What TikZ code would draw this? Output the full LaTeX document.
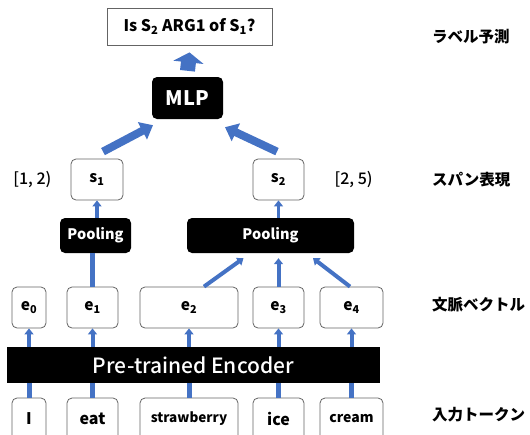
\documentclass[tikz,border=0pt]{standalone}
\usepackage{fontspec}
\setmainfont{Noto Sans CJK JP}
\newfontfamily\medfont{Noto Sans CJK JP Medium}
\usetikzlibrary{arrows.meta,positioning}
\definecolor{arrowblue}{RGB}{68,114,196}
\definecolor{boxgray}{RGB}{100,100,100}

\begin{document}
\begin{tikzpicture}[
    x=1pt, y=1pt,
    wbox/.style={draw=boxgray, line width=0.8pt, rounded corners=5pt, fill=white,
      minimum height=41pt, inner sep=0pt, font=\bfseries\fontsize{15.5}{15.5}\selectfont},
    tok/.style={wbox, minimum height=42pt, font=\bfseries\fontsize{16}{16}\selectfont},
    bbox/.style={fill=black, rounded corners=5pt, text=white, inner sep=0pt,
      font=\bfseries\fontsize{14.5}{14.5}\selectfont},
    arrow/.style={-{Triangle[width=9pt,length=6pt]}, line width=4pt, draw=arrowblue},
    bigarrow/.style={-{Triangle[width=19pt,length=12pt]}, line width=8pt, draw=arrowblue},
    blockarrow/.style={-{Triangle[width=30pt,length=10pt]}, line width=15pt, draw=arrowblue},
    feed/.style={line width=5pt, draw=arrowblue},
    span/.style={inner sep=0pt, font=\medfont\fontsize{16}{16}\selectfont},
    side/.style={anchor=west, inner sep=0pt, font=\bfseries\fontsize{15.5}{15.5}\selectfont}
  ]
    \path[use as bounding box, clip] (0,0) rectangle (530,-434);

    \node[draw=boxgray, line width=0.8pt, minimum width=165pt, minimum height=37pt,
      font=\bfseries\fontsize{16}{16}\selectfont] (q) at (189.5,-26.5)
      {Is S\textsubscript{2} ARG1 of S\textsubscript{1}?};
    \node[bbox, minimum width=71pt, minimum height=42pt,
      font=\bfseries\fontsize{20}{20}\selectfont] (mlp) at (187.5,-98) {MLP};

    \node[wbox, minimum width=52pt] (s1) at (97,-179.5) {s\textsubscript{1}};
    \node[wbox, minimum width=51pt] (s2) at (278.5,-179.5) {s\textsubscript{2}};
    \node[span, left=19pt of s1] (spanA) {[1, 2)};
    \node[span, right=30pt of s2] (spanB) {[2, 5)};

    \node[bbox, minimum width=71pt, minimum height=35pt] (poolA) at (95.5,-235.5) {Pooling};
    \node[bbox, minimum width=167pt, minimum height=35pt] (poolB) at (270.5,-235.5) {Pooling};

    \node[wbox, minimum width=34pt] (e0) at (29,-307.5) {e\textsubscript{0}};
    \node[wbox, minimum width=51pt] (e1) at (92.5,-307.5) {e\textsubscript{1}};
    \node[wbox, minimum width=98pt] (e2) at (189,-307.5) {e\textsubscript{2}};
    \node[wbox, minimum width=51pt] (e3) at (278.5,-307.5) {e\textsubscript{3}};
    \node[wbox, minimum width=63pt] (e4) at (351.5,-307.5) {e\textsubscript{4}};

    \node[fill=black, text=white, minimum width=373pt, minimum height=36pt,
      font=\medfont\fontsize{21}{21}\selectfont] (enc) at (193.5,-365) {Pre-trained Encoder};

    \node[tok, minimum width=34pt] (t0) at (29,-419) {I};
    \node[tok, minimum width=51pt] (t1) at (92.5,-419) {eat};
    \node[tok, minimum width=98pt, font=\bfseries\fontsize{13.5}{13.5}\selectfont] (t2) at (189,-419) {strawberry};
    \node[tok, minimum width=51pt] (t3) at (278.5,-419) {ice};
    \node[tok, minimum width=63pt, font=\bfseries\fontsize{14}{14}\selectfont] (t4) at (351.5,-419) {cream};

    % layer names
    \node[side] (lblPred) at (432,-37) {ラベル予測};
    \node[side] (lblSpan) at (432,-180) {スパン表現};
    \node[side] (lblVec) at (432,-305) {文脈ベクトル};
    \node[side] (lblTok) at (432,-415) {入力トークン};

    \draw[feed] (t0.north) -- (t0.north |- enc.south);
    \draw[feed] (t1.north) -- (t1.north |- enc.south);
    \draw[feed] (t2.north) -- (t2.north |- enc.south);
    \draw[feed] (t3.north) -- (t3.north |- enc.south);
    \draw[feed] (t4.north) -- (t4.north |- enc.south);

    \draw[arrow] (enc.north -| e0) -- (e0.south);
    \draw[arrow] (enc.north -| e1) -- (e1.south);
    \draw[arrow] (enc.north -| e2) -- (e2.south);
    \draw[arrow] (enc.north -| e3) -- (e3.south);
    \draw[arrow] (enc.north -| e4) -- (e4.south);

    \draw[feed] (e1.north) -- (e1.north |- poolA.south);
    \draw[arrow] ([xshift=15pt]e2.north) -- ([xshift=-27pt,yshift=-5pt]poolB.south);
    \draw[arrow] (e3.north) -- ([yshift=-5pt]e3.north |- poolB.south);
    \draw[arrow] ([xshift=-1.5pt]e4.north) -- ([xshift=42.5pt,yshift=-5pt]poolB.south);

    \draw[arrow] (poolA.north -| s1) -- (s1.south);
    \draw[arrow, line width=3pt] (poolB.north -| s2) -- (s2.south);

    \draw[bigarrow] ([shift={(6pt,7pt)}]s1.north) -- ([shift={(-34.5pt,-6pt)}]mlp.south);
    \draw[bigarrow] ([shift={(-1.5pt,7pt)}]s2.north) -- ([shift={(37.5pt,-8pt)}]mlp.south);
    \draw[blockarrow] ([yshift=6pt]mlp.north) -- ([yshift=-7pt]q.south);
  \end{tikzpicture}
\end{document}
